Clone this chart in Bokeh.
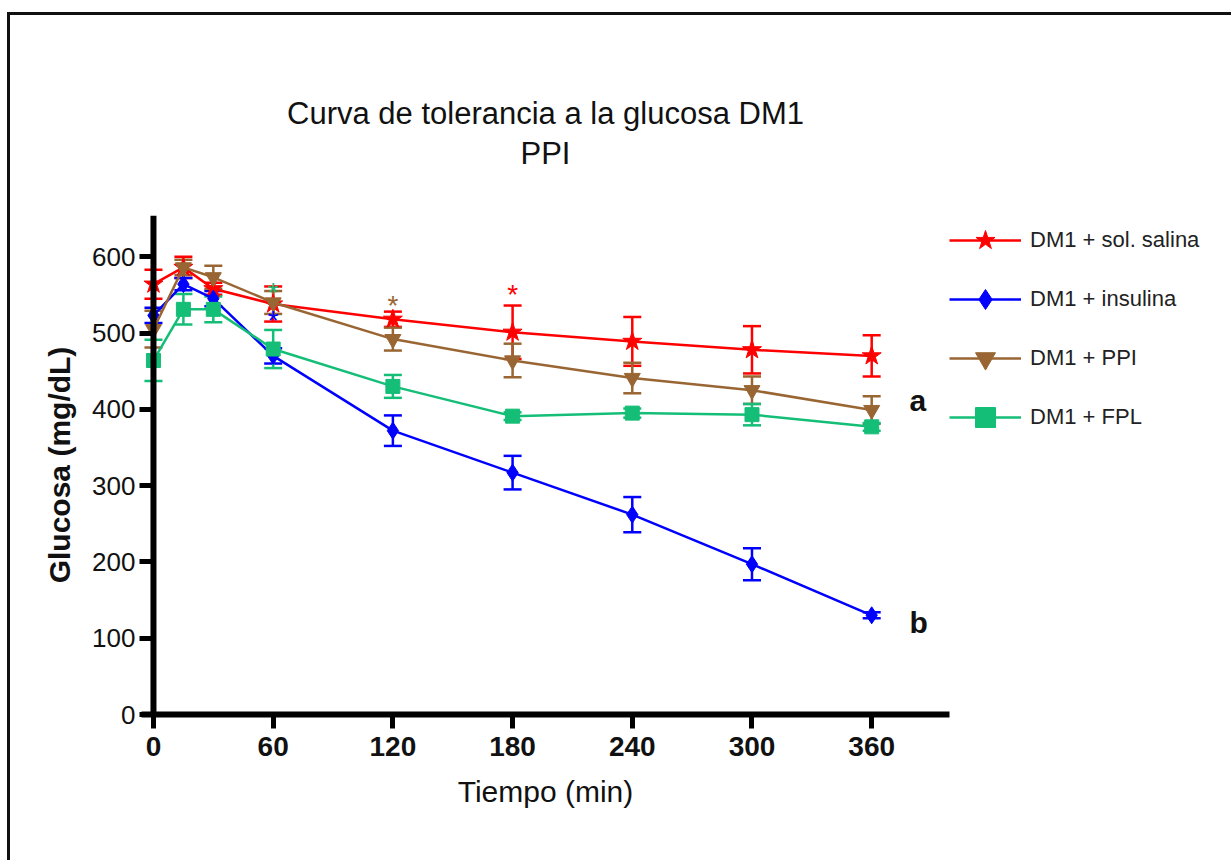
from bokeh.plotting import figure
from bokeh.models import (Range1d, Whisker, TeeHead, ColumnDataSource, Title,
                          Legend, LegendItem, FixedTicker, Span, LinearAxis)
from bokeh.core.properties import value
from bokeh.embed import file_html
from bokeh.resources import INLINE

# ---- data ----
time = [0, 15, 30, 60, 120, 180, 240, 300, 360]

salina = [564, 586, 558, 538, 518, 501, 489, 478, 470]
salina_err = [19, 14, 8, 23, 10, 35, 32, 31, 27]

insulina = [523, 564, 545, 470, 372, 317, 262, 197, 130]
insulina_err = [10, 8, 10, 10, 20, 22, 23, 21, 4]

ppi = [505, 586, 573, 540, 492, 464, 441, 425, 399]
ppi_err = [24, 10, 15, 15, 15, 22, 20, 18, 18]

fpl = [464, 531, 531, 479, 430, 391, 395, 393, 377]
fpl_err = [27, 20, 17, 25, 15, 5, 6, 14, 5]

series_names = ["DM1 + sol. salina", "DM1 + insulina", "DM1 + PPI", "DM1 + FPL"]
series_colors = ["#FF0000", "#0000FF", "#996633", "#14BE77"]
series_markers = ["star", "diamond", "inverted_triangle", "square"]
series_sizes = [20, 17, 16, 14]

# significance asterisks
sig_time = [60, 60, 120, 180]
sig_value = [553, 516, 536, 550]
sig_color = ["#14BE77", "#0000FF", "#996633", "#FF0000"]

# group letters
letter_text = ["a", "b"]
letter_time = [379, 379]
letter_value = [412, 120]

x_ticks = [0, 60, 120, 180, 240, 300, 360]
y_ticks = [0, 100, 200, 300, 400, 500, 600]

title_line1 = "Curva de tolerancia a la glucosa DM1"
title_line2 = "PPI"

FONT = "Liberation Sans"
INK = "#111111"

p = figure(frame_width=808, frame_height=499,
           min_border_left=131, min_border_right=279,
           min_border_top=200, min_border_bottom=146,
           x_range=Range1d(-6, 399), y_range=Range1d(0, 654),
           output_backend="svg", toolbar_location=None)
p.styles = {"margin-left": "7px", "margin-top": "12px",
            "border": "3px solid #111111"}
p.background_fill_color = "white"
p.border_fill_color = "white"
p.outline_line_color = None
p.xgrid.visible = False
p.ygrid.visible = False

# x axis
xa = p.xaxis[0]
xa.ticker = FixedTicker(ticks=x_ticks)
xa.axis_line_width = 6
xa.axis_line_color = "black"
xa.major_tick_line_width = 5
xa.major_tick_in = 0
xa.major_tick_out = 14
xa.minor_tick_line_color = None
xa.major_label_text_font = FONT
xa.major_label_text_font_size = "28px"
xa.major_label_text_font_style = "bold"
xa.major_label_text_color = INK
xa.major_label_standoff = 8
xa.axis_label = "Tiempo (min)"
xa.axis_label_text_font = FONT
xa.axis_label_text_font_size = "30px"
xa.axis_label_text_font_style = "normal"
xa.axis_label_text_color = INK
xa.axis_label_standoff = 16

# y axis: labels at the frame edge, ticks reaching to x = 0
ya = p.yaxis[0]
ya.ticker = FixedTicker(ticks=y_ticks)
ya.axis_line_color = None
ya.major_tick_line_width = 5
ya.major_tick_line_color = "black"
ya.major_tick_in = 12
ya.major_tick_out = 2
ya.minor_tick_line_color = None
ya.major_label_text_font = FONT
ya.major_label_text_font_size = "26px"
ya.major_label_text_color = INK
ya.major_label_standoff = 4
ya.axis_label = "Glucosa (mg/dL)"
ya.axis_label_text_font = FONT
ya.axis_label_text_font_size = "30px"
ya.axis_label_text_font_style = "bold"
ya.axis_label_text_color = INK
ya.axis_label_standoff = 13

# y axis line at x = 0
p.add_layout(Span(location=0, dimension="height", line_color="black",
                  line_width=6))

means = [salina, insulina, ppi, fpl]
errs = [salina_err, insulina_err, ppi_err, fpl_err]
items = []
for name, m, e, c, mk, sz in zip(series_names, means, errs, series_colors,
                                 series_markers, series_sizes):
    src = ColumnDataSource(dict(
        t=time, y=m,
        upper=[a + b for a, b in zip(m, e)],
        lower=[a - b for a, b in zip(m, e)]))
    w = Whisker(source=src, base="t", upper="upper", lower="lower",
                line_color=c, line_width=2.5,
                upper_head=TeeHead(size=18, line_color=c, line_width=2.5),
                lower_head=TeeHead(size=18, line_color=c, line_width=2.5))
    p.add_layout(w)
    lr = p.line("t", "y", source=src, line_color=c, line_width=2.5)
    sr = p.scatter("t", "y", source=src, marker=mk, size=sz,
                   fill_color=c, line_color=c)
    items.append(LegendItem(label=name, renderers=[lr, sr]))

legend = Legend(items=items, location="top_left", margin=0, padding=0,
                glyph_width=72, glyph_height=50, label_height=50,
                spacing=9, label_standoff=9,
                label_text_font=FONT, label_text_font_size="22px",
                label_text_color="#222222",
                border_line_color=None, background_fill_alpha=0)
p.add_layout(legend, "right")

# significance asterisks
sig_src = ColumnDataSource(dict(t=sig_time, y=sig_value, c=sig_color,
                                s=["*"] * len(sig_time)))
p.text("t", "y", text="s", source=sig_src, text_color="c",
       text_font=value(FONT), text_font_size="28px",
       text_align="center", text_baseline="middle")

# group letters
let_src = ColumnDataSource(dict(t=letter_time, y=letter_value, s=letter_text))
p.text("t", "y", text="s", source=let_src, text_color=INK,
       text_font=value(FONT), text_font_size="30px", text_font_style="bold",
       text_align="left", text_baseline="middle")

# title second line: label of a bare axis above the frame (centred)
sub = LinearAxis(ticker=FixedTicker(ticks=[]), axis_line_color=None,
                 major_tick_line_color=None, minor_tick_line_color=None,
                 major_tick_out=0, major_tick_in=0,
                 axis_label=title_line2, axis_label_standoff=45,
                 axis_label_text_font=FONT, axis_label_text_font_size="31px",
                 axis_label_text_font_style="normal",
                 axis_label_text_color=INK)
p.add_layout(sub, "above")
# title first line
p.add_layout(Title(text=title_line1, align="center", text_font=FONT,
                   text_font_size="31px", text_font_style="normal",
                   text_color=INK, standoff=4), "above")

open("out.html", "w").write(file_html(p, INLINE))
